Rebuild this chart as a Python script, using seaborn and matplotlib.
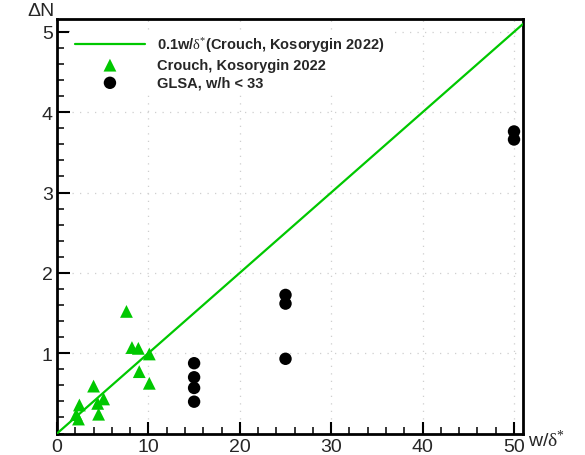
import numpy as np
import pandas as pd
import matplotlib
matplotlib.use("Agg")
import matplotlib.pyplot as plt
import seaborn as sns
from matplotlib.ticker import MultipleLocator

# Data
tri_x = [7.6, 8.2, 8.9, 10.1, 9.0, 10.1, 4.0, 5.1, 4.45, 2.45, 4.55, 2.1, 2.35]
tri_y = [1.52, 1.07, 1.06, 0.99, 0.77, 0.625, 0.59, 0.43, 0.375, 0.355, 0.24, 0.235, 0.18]
glsa_x = [15, 15, 15, 15, 25, 25, 25, 50, 50]
glsa_y = [0.875, 0.70, 0.567, 0.396, 1.725, 1.617, 0.93, 3.76, 3.66]
line_x = [0, 51]
line_slope = 0.1
xticks = [0, 10, 20, 30, 40, 50]
yticks = [1, 2, 3, 4, 5]

sns.set_theme(style="ticks")
plt.rcParams['font.family'] = ['Liberation Sans', 'DejaVu Sans']
plt.rcParams['mathtext.fontset'] = 'custom'
plt.rcParams['mathtext.rm'] = 'Liberation Serif'
plt.rcParams['mathtext.it'] = 'Liberation Serif:italic'
plt.rcParams['mathtext.bf'] = 'Liberation Serif:bold'

green = "#00c800"
fig = plt.figure(figsize=(5.85, 4.56), dpi=100)
ax = fig.add_axes([57/585, 1 - 434.5/456, (522.7-57)/585, (434.5-20)/456])

line_df = pd.DataFrame({"x": line_x, "y": [line_slope * v for v in line_x]})
sns.lineplot(data=line_df, x="x", y="y", ax=ax, color=green, linewidth=1.6,
             label=r"0.1w/$\mathrm{\delta}^{*}$(Crouch, Kosorygin 2022)", zorder=3)
tri_df = pd.DataFrame({"x": tri_x, "y": tri_y})
sns.scatterplot(data=tri_df, x="x", y="y", ax=ax, marker="^", color=green, s=85,
                edgecolor="none", label="Crouch, Kosorygin 2022", zorder=4)
g_df = pd.DataFrame({"x": glsa_x, "y": glsa_y})
sns.scatterplot(data=g_df, x="x", y="y", ax=ax, marker="o", color="black", s=80,
                edgecolor="none", label="GLSA, w/h < 33", zorder=4)

ax.set_xlim(0, 50.95)
ax.set_ylim(0, 5.16)
ax.set_xticks(xticks)
ax.set_yticks(yticks)
ax.xaxis.set_minor_locator(MultipleLocator(2))
ax.yaxis.set_minor_locator(MultipleLocator(0.2))
ax.set_xlabel("")
ax.set_ylabel("")
ax.grid(True, which="major", color="#cfcfcf", linestyle=(0, (1, 5)), linewidth=0.9)
for s in ax.spines.values():
    s.set_color("black")
    s.set_linewidth(2)
    s.set_visible(True)
ax.tick_params(which="both", direction="in", bottom=True, left=True, top=False, right=False,
               color="black")
ax.tick_params(which="major", length=9, width=1.5, labelsize=14, pad=3)
ax.tick_params(which="minor", length=5, width=1.1)

fig.text(27/585, 1 - 12/456, "ΔN", fontsize=14, ha="left", va="center")
fig.text(528/585, 1 - 441/456, r"w/$\mathrm{\delta}^{*}$", fontsize=14, ha="left", va="center")

leg = ax.legend(loc="upper left", bbox_to_anchor=(0.026, 0.9744), frameon=True,
                prop={"weight": "bold", "size": 10.5}, handlelength=4.8,
                borderaxespad=0.0, labelspacing=0.25, handletextpad=0.82)
leg.get_frame().set_edgecolor("none")
leg.get_frame().set_facecolor("white")
leg.get_frame().set_alpha(1)

fig.savefig("out.png", dpi=100)
